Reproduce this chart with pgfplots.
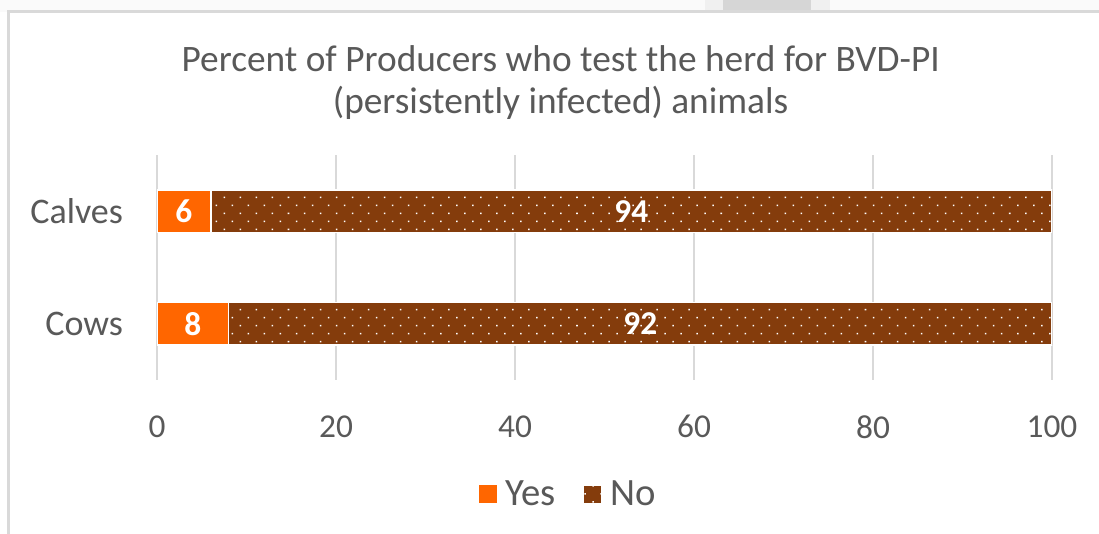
\documentclass[border=0pt]{standalone}
\usepackage{pgfplots}
\pgfplotsset{compat=1.18}
\usepackage{pgfplotstable}
\usepackage{fontspec}
\setmainfont{Carlito}
\usetikzlibrary{patterns.meta}
\definecolor{yesc}{HTML}{FF6600}
\definecolor{noc}{HTML}{843C0C}
\definecolor{txt}{HTML}{595959}
\definecolor{gridc}{HTML}{D9D9D9}
\pgfplotstableread{
pos cat yes no
0 Cows 8 92
1 Calves 6 94
}\datatable
\begin{document}
\begin{tikzpicture}[x=0.75pt,y=0.75pt]
\useasboundingbox (0,0) rectangle (1099,534);
\fill[white] (0,0) rectangle (1099,534);
\fill[black!2] (0,522) rectangle (1099,534);
\fill[black!6] (705,522) rectangle (830,534);
\fill[black!16] (723,522) rectangle (811,534);
\draw[gridc, line width=1.6pt] (8.5,-5) -- (8.5,522.5) -- (1110,522.5);
\begin{axis}[
  at={(117.75pt,115.5pt)}, anchor=south west,
  scale only axis, width=671.25pt, height=168.75pt,
  xbar stacked, bar width=32pt,
  xmin=0, xmax=100, ymin=-0.5, ymax=1.5,
  xtick={0,20,...,100}, ytick={0,1}, yticklabels={Cows,Calves},
  major tick length=0pt,
  xmajorgrids, grid style={gridc, line width=1.1pt},
  axis line style={draw=none},
  tick label style={font=\fontsize{25}{30}\selectfont, text=txt},
  /pgf/number format/assume math mode=true,
  xticklabel style={yshift=-23pt},
  yticklabel style={xshift=-22pt, font=\fontsize{27}{30}\selectfont},
  title={Percent of Producers who test the herd for BVD-PI\\(persistently infected) animals},
  title style={at={(0.451,1.285)}, anchor=center, align=center, font=\fontsize{28}{31.5}\selectfont, text=txt},
  legend columns=2,
  legend style={at={(0.463,-0.507)}, anchor=center, draw=none, fill=none,
    font=\fontsize{29}{30}\selectfont, text=txt,
    nodes={inner xsep=6pt},
    /tikz/every even column/.append style={column sep=14pt}},
  legend image code/.code={\draw[#1, draw=none] (0pt,-7pt) rectangle (14pt,7pt);},
  nodes near coords,
  point meta=explicit,
  every node near coord/.append style={font=\fontsize{25}{26}\selectfont\bfseries, text=white, anchor=center},
]
\addplot[fill=yesc, draw=white, line width=1.2pt]
  table[x=yes, y=pos, meta=yes] {\datatable};
\addplot[fill=noc, draw=white, line width=1.2pt,
  postaction={pattern={Dots[distance=8.5pt, angle=45, radius=0.8pt]}, pattern color=white}]
  table[x=no, y=pos, meta=no] {\datatable};
\legend{Yes, No}
\end{axis}
\end{tikzpicture}
\end{document}
